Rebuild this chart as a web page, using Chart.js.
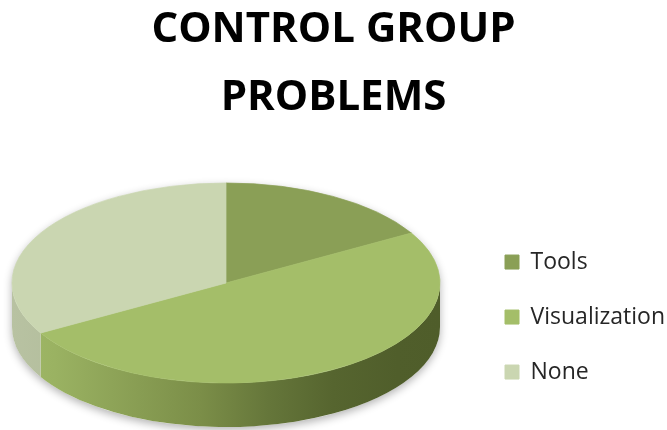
<!DOCTYPE html>
<html lang="en">
<head>
<meta charset="utf-8">
<script src="https://cdn.jsdelivr.net/npm/chart.js@4.4.0/dist/chart.umd.min.js"></script>
<style>
  html, body { margin: 0; padding: 0; background: #ffffff; }
</style>
</head>
<body>
<canvas id="myChart" width="667" height="430"></canvas>
<script>

// chart data
const titleLines = ['CONTROL GROUP', 'PROBLEMS'];
const categories = ['Tools', 'Visualization', 'None'];
const counts = [1, 3, 2];

// colours: top face of each slice, and the shading of its side wall (left -> right)
const topColors = ['#8a9f56', '#a4be69', '#cad6b1'];
const wallStops = [
    [[0, '#7d9049'], [1, '#5d6d34']],
    [[0, '#a0b967'], [0.1, '#9ab262'], [0.44, '#7b8e48'], [0.6, '#65763a'], [0.75, '#56652f'], [0.9, '#505e2b'], [1, '#4f5d2a']],
    [[0, '#b8c2a2'], [0.2, '#b0bb99'], [1, '#9ea987']]
];

// tilts the pie into an ellipse and extrudes a side wall under it
const pie3d = {
    id: 'pie3d',
    beforeDatasetsDraw(chart, args, opts) {
        const meta = chart.getDatasetMeta(0);
        const ctx = chart.ctx;
        const rx = meta.data[0].outerRadius;
        const ry = rx * opts.tilt;
        const cx = opts.centerX, cy = opts.centerY, depth = opts.depth;

        // soft shadow under the whole body
        ctx.save();
        ctx.shadowColor = 'rgba(0,0,0,0.30)';
        ctx.shadowBlur = 8;
        ctx.shadowOffsetY = 3;
        ctx.fillStyle = '#ffffff';
        ctx.beginPath();
        ctx.ellipse(cx, cy, rx, ry, 0, Math.PI, 2 * Math.PI);
        ctx.ellipse(cx, cy + depth, rx, ry, 0, 0, Math.PI);
        ctx.closePath();
        ctx.fill();
        ctx.restore();

        // side walls, only the front half (canvas angles 0..PI) is visible
        meta.data.forEach((arc, i) => {
            const lo = Math.max(arc.startAngle, 0);
            const hi = Math.min(arc.endAngle, Math.PI);
            if (hi <= lo) return;
            const grad = ctx.createLinearGradient(cx - rx, 0, cx + rx, 0);
            wallStops[i].forEach(s => grad.addColorStop(s[0], s[1]));
            ctx.save();
            ctx.fillStyle = grad;
            ctx.beginPath();
            ctx.ellipse(cx, cy, rx, ry, 0, lo, hi);
            ctx.ellipse(cx, cy + depth, rx, ry, 0, hi, lo, true);
            ctx.closePath();
            ctx.fill();
            ctx.restore();
        });

        // top face: squash the library's circle into the ellipse
        const c = meta.data[0];
        ctx.save();
        ctx.translate(cx, cy);
        ctx.scale(1, opts.tilt);
        ctx.translate(-c.x, -c.y);
    },
    afterDatasetsDraw(chart) {
        chart.ctx.restore();
    }
};

const ctx = document.getElementById('myChart').getContext('2d');

const myChart = new Chart(ctx, {
    type: 'pie',
    data: {
        labels: categories,
        datasets: [{
            data: counts,
            backgroundColor: topColors,
            borderColor: topColors,
            borderWidth: 1,
            radius: 214,
            clip: false
        }]
    },
    options: {
        responsive: false,
        animation: false,
        events: [],
        layout: { padding: { left: -8, right: -8 } },
        plugins: {
            title: {
                display: true,
                text: titleLines,
                color: '#000000',
                font: { family: "'Open Sans', sans-serif", size: 42, weight: 'bold', lineHeight: 1.62 },
                padding: { top: -4, bottom: 72 }
            },
            legend: {
                position: 'right',
                fullSize: false,
                labels: {
                    boxWidth: 14,
                    boxHeight: 14,
                    padding: 32,
                    color: '#262626',
                    font: { family: "'Open Sans', sans-serif", size: 23 }
                }
            },
            tooltip: { enabled: false },
            pie3d: { centerX: 226, centerY: 283, tilt: 100 / 214, depth: 44 }
        }
    },
    plugins: [pie3d]
});

</script>
</body>
</html>
